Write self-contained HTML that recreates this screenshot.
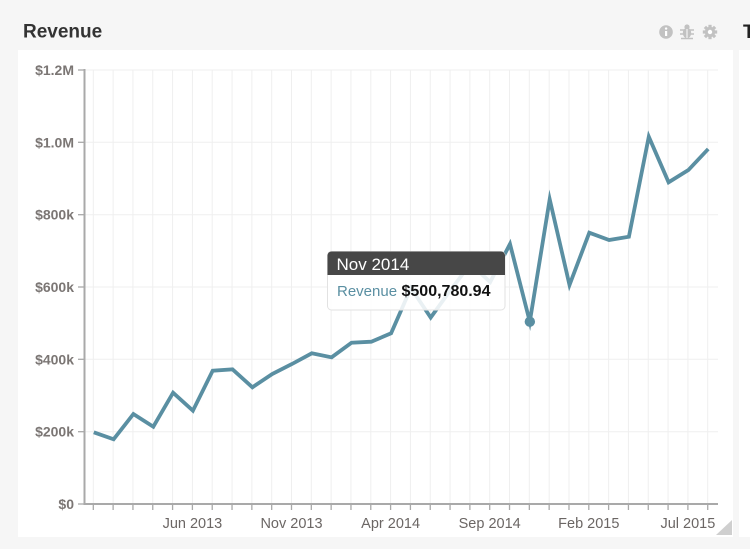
<!DOCTYPE html>
<html><head><meta charset="utf-8"><style>
html,body{margin:0;padding:0;background:#f6f6f6;width:750px;height:549px;overflow:hidden;font-family:"Liberation Sans",sans-serif;}
svg{position:absolute;left:0;top:0}
</style></head><body>
<svg width="750" height="549" viewBox="0 0 750 549" xmlns="http://www.w3.org/2000/svg" font-family="Liberation Sans, sans-serif">
<rect x="0" y="0" width="750" height="549" fill="#f6f6f6"/>
<rect x="18" y="50" width="715" height="487" fill="#ffffff"/>
<rect x="739" y="50" width="20" height="487" fill="#ffffff"/>
<text x="23" y="37.5" font-size="19" font-weight="bold" fill="#333">Revenue</text>
<text x="743" y="38" font-size="19" font-weight="bold" fill="#222">T</text>
<circle cx="666" cy="32" r="6.8" fill="#c2c2c2"/>
<rect x="665" y="31" width="2.2" height="5" fill="#fff"/>
<circle cx="666.1" cy="28.6" r="1.2" fill="#fff"/>
<g fill="#c2c2c2" stroke="#c2c2c2">
<ellipse cx="687" cy="33" rx="4.2" ry="5.3" stroke="none"/>
<circle cx="687" cy="27" r="2.6" stroke="none"/>
<line x1="680" y1="30" x2="694" y2="30" stroke-width="1.5"/>
<line x1="680" y1="34" x2="694" y2="34" stroke-width="1.5"/>
<line x1="681" y1="38.5" x2="693" y2="38.5" stroke-width="1.5"/>
</g>
<line x1="687" y1="29" x2="687" y2="38" stroke="#fff" stroke-width="1"/>
<g transform="translate(710,32)">
<circle r="5.2" fill="#c2c2c2"/>
<g fill="#c2c2c2">
<rect x="-1.6" y="-7.2" width="3.2" height="14.4"/>
<rect x="-1.6" y="-7.2" width="3.2" height="14.4" transform="rotate(45)"/>
<rect x="-1.6" y="-7.2" width="3.2" height="14.4" transform="rotate(90)"/>
<rect x="-1.6" y="-7.2" width="3.2" height="14.4" transform="rotate(135)"/>
</g>
<circle r="2.2" fill="#fff"/>
</g>
<g stroke="#efefef" stroke-width="1" id="grid"></g>
<g id="axes"></g>
<g id="series"></g>
<g>
<rect x="327.5" y="251.5" width="177.5" height="58.5" rx="4" fill="rgba(255,255,255,0.87)" stroke="#e2e2e2" stroke-width="1"/>
<path d="M327.5 275 V255.5 a4 4 0 0 1 4 -4 H501 a4 4 0 0 1 4 4 V275 Z" fill="#474747"/>
<text x="336.5" y="270" font-size="17" fill="#fff">Nov 2014</text>
<text x="337" y="296" font-size="15" fill="#5a8fa2">Revenue</text>
<text x="401.5" y="296" font-size="16" font-weight="bold" fill="#111">$500,780.94</text>
</g>
<polygon points="716,535 732,535 732,520" fill="#cfcfcf"/>
</svg>
<script>
(function(){
var NS="http://www.w3.org/2000/svg";
function el(t,a,p){var e=document.createElementNS(NS,t);for(var k in a)e.setAttribute(k,a[k]);p.appendChild(e);return e;}
var grid=document.getElementById('grid'),axes=document.getElementById('axes'),ser=document.getElementById('series');
var x0=93.3,dx=19.82,yb=504,yt=69.5;
var yTicks=[["$0",504],["$200k",431.7],["$400k",359.3],["$600k",287],["$800k",214.7],["$1.0M",142.3],["$1.2M",70]];
for(var i=0;i<32;i++){var x=x0+i*dx;el('line',{x1:x,y1:yt,x2:x,y2:yb},grid);}
yTicks.forEach(function(t){el('line',{x1:85,y1:t[1],x2:718,y2:t[1]},grid);});
el('line',{x1:84.5,y1:69,x2:84.5,y2:505,stroke:'#a9a9a9','stroke-width':2},axes);
el('line',{x1:84,y1:504,x2:718,y2:504,stroke:'#a9a9a9','stroke-width':2},axes);
yTicks.forEach(function(t){
 el('line',{x1:78,y1:t[1],x2:84,y2:t[1],stroke:'#a9a9a9','stroke-width':1.3},axes);
 var tx=el('text',{x:74,y:t[1]+5,'text-anchor':'end','font-size':'14','font-weight':'bold',fill:'#7b7674'},axes);tx.textContent=t[0];
});
for(var i=0;i<32;i++){var x=x0+i*dx;el('line',{x1:x,y1:504,x2:x,y2:510,stroke:'#a9a9a9','stroke-width':1.3},axes);}
var labs=[[5,"Jun 2013"],[10,"Nov 2013"],[15,"Apr 2014"],[20,"Sep 2014"],[25,"Feb 2015"],[30,"Jul 2015"]];
labs.forEach(function(l){var tx=el('text',{x:x0+l[0]*dx,y:528,'text-anchor':'middle','font-size':'14.5',fill:'#6b6664'},axes);tx.textContent=l[1];});
var ys=[432.3,439.3,414,426.7,392.7,410.7,370.7,369.3,387.3,374,364,353.3,357.3,342.7,341.7,333.3,288,317.5,290,264,282,244,321.7,199.3,285,232.7,240,236.7,136.7,182.3,170,149];
var d='';for(var i=0;i<ys.length;i++){d+=(i?'L':'M')+(x0+i*dx+0.5).toFixed(1)+' '+ys[i]+' ';}
el('path',{d:d,fill:'none',stroke:'#5a8fa2','stroke-width':3.8,'stroke-linejoin':'miter','stroke-miterlimit':6},ser);
el('circle',{cx:x0+22*dx+0.5,cy:321.7,r:5.2,fill:'#5a8fa2'},ser);
})();
</script>
</body></html>
